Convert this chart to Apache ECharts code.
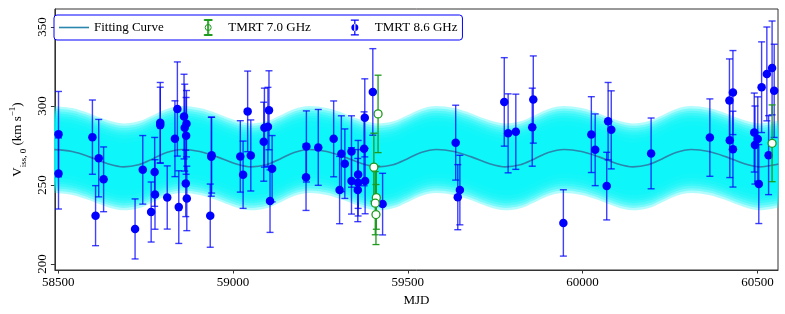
<!DOCTYPE html>
<html><head><meta charset="utf-8">
<script src="https://cdn.jsdelivr.net/npm/echarts@6/dist/echarts.min.js"></script>
<style>html,body{margin:0;padding:0;background:#fff}#c{width:785px;height:314px}</style>
</head><body><div id="c"></div>
<script>
// ---- tick labels ----
const xTicks = [58500, 59000, 59500, 60000, 60500];
const yTicks = [200, 250, 300, 350];

// ---- fitting curve ----
const fitMJD = [58489, 58540, 58590, 58640, 58687, 58730, 58770, 58810, 58855,
  58905, 58955, 59005, 59052, 59095, 59135, 59175, 59218,
  59268, 59318, 59368, 59415, 59458, 59498, 59538, 59582,
  59632, 59682, 59732, 59779, 59822, 59862, 59902, 59947,
  59997, 60047, 60097, 60144, 60187, 60227, 60267, 60311,
  60361, 60411, 60461, 60508, 60551, 60560];
const fitV = [272.4, 271.2, 267.8, 263.6, 261.5, 262.8, 266.5, 270.6, 272.5,
  271.2, 267.8, 263.6, 261.5, 262.8, 266.5, 270.6, 272.5,
  271.2, 267.8, 263.6, 261.5, 262.8, 266.5, 270.6, 272.5,
  271.2, 267.8, 263.6, 261.5, 262.8, 266.5, 270.6, 272.5,
  271.2, 267.8, 263.6, 261.5, 262.8, 266.5, 270.6, 272.5,
  271.2, 267.8, 263.6, 261.5, 262.8, 263.3];
// half widths of the shaded uncertainty band layers (km/s)
const bandHalfWidths = [27.5, 26, 24.5, 23, 21.5, 20, 18, 15];

// ---- TMRT 8.6 GHz ----
const mjd86 = [58501,58501,58598,58616,58607,58630,58720,58742,58766,58776,
  58777,58792,58792,58812,58834,58841,58845,58860,58862,58867,
  58866,58865,58868,58938,58939,58935,59021,59029,59042,59051,
  59088,59090,59100,59103,59112,59106,59210,59209,59244,59288,
  59305,59310,59320,59339,59339,59358,59358,59357,59375,59377,
  59378,59400,59428,59637,59649,59643,59776,59787,59809,59859,
  59856,59945,60025,60036,60073,60082,60069,60196,60364,60420,
  60430,60421,60430,60491,60493,60501,60504,60512,60527,60542,
  60548,60532];
const v86 = [282.2,257.3,280.3,267.0,230.6,253.6,222.2,259.6,232.9,258.3,
  244.0,289.4,287.9,242.1,279.3,298.1,236.0,293.3,286.3,288.8,
  281.1,251.0,241.5,267.9,268.9,230.6,268.1,256.5,296.6,268.7,
  277.4,286.3,286.8,297.3,260.3,239.8,274.4,254.9,273.8,279.2,
  246.8,269.8,263.5,271.2,252.6,256.7,251.4,246.8,272.9,292.5,
  252.5,308.9,237.9,276.8,246.8,242.3,302.6,282.7,283.7,304.1,
  286.6,226.0,281.9,272.3,290.4,284.9,249.3,270.0,280.0,303.5,
  308.5,278.3,272.7,283.2,275.3,279.1,250.6,311.9,320.3,324.1,
  309.6,268.9];
const err86 = [27,22.5,23.5,24.5,19,20.5,19,21.7,19,21.8,
  22,25.5,24,20,24,29.8,23,26.8,27.5,21,
  24.3,21,20.4,25,24,20,22.6,21.3,25.5,22.5,
  25,25,25,25,21,19.8,22.5,21,24,24,
  21.3,24,22,22.6,21,21.5,21,20,23.4,24.7,
  20.7,27.4,19.5,23.7,22,20.6,28,25,23.8,27.6,
  24.7,21,24,22.7,24.5,24.7,21.4,22.4,24.5,26.3,
  26.6,23.6,24,25,24.7,26.7,25,28.7,29.7,29.7,
  29.5,25];

// ---- TMRT 7.0 GHz ----
const mjd70 = [59415, 59403, 59410, 59407, 59409, 60542];
const v70 = [295.0, 261.3, 242.0, 238.5, 231.3, 276.4];
const err70 = [24.5, 21.5, 20, 20, 19, 24.3];

// ---------------------------------------------------------
const FONT = 'Liberation Serif';
const BLUE = '#0000ff';
const GREEN = '#1e9a1e';
const CURVE = '#2a86ad';

const zip3 = (a, b, c) => a.map((x, i) => [x, b[i], c[i]]);
const d86 = zip3(mjd86, v86, err86);
const d70 = zip3(mjd70, v70, err70);

function errRender(color, width) {
  return function (params, api) {
    const x = api.value(0), y = api.value(1), e = api.value(2);
    const t = api.coord([x, y + e]), b = api.coord([x, y - e]);
    const hw = 3.5;
    const st = { stroke: color, lineWidth: width };
    return { type: 'group', children: [
      { type: 'line', shape: { x1: t[0], y1: t[1], x2: b[0], y2: b[1] }, style: st },
      { type: 'line', shape: { x1: t[0] - hw, y1: t[1], x2: t[0] + hw, y2: t[1] }, style: st },
      { type: 'line', shape: { x1: b[0] - hw, y1: b[1], x2: b[0] + hw, y2: b[1] }, style: st }
    ]};
  };
}

const series = [];
// band: rows are [value, MJD] so that the stacked dimension is the y value
bandHalfWidths.forEach((h, k) => {
  series.push({
    type: 'line', name: 'bandbase' + k, stack: 'band' + k, smooth: 0.35,
    symbol: 'none', silent: true, z: 1, encode: { x: 1, y: 0 },
    lineStyle: { opacity: 0, width: 0 },
    data: fitMJD.map((x, i) => [fitV[i] - h, x])
  });
  series.push({
    type: 'line', name: 'band' + k, stack: 'band' + k, smooth: 0.35,
    symbol: 'none', silent: true, z: 1, encode: { x: 1, y: 0 },
    lineStyle: { opacity: 0, width: 0 },
    areaStyle: { color: 'rgba(0,245,250,0.3)', opacity: 1 },
    data: fitMJD.map((x) => [2 * h, x])
  });
});
series.push({
  type: 'line', name: 'Fitting Curve', smooth: 0.35, symbol: 'none', z: 3,
  lineStyle: { color: CURVE, width: 1.6 }, itemStyle: { color: CURVE },
  data: fitMJD.map((x, i) => [x, fitV[i]])
});
series.push({
  type: 'custom', name: 'eb86', z: 4, renderItem: errRender('rgba(0,0,255,0.75)', 1.4),
  encode: { x: 0, y: 1 }, data: d86
});
series.push({
  type: 'scatter', name: 'TMRT 8.6 GHz', z: 5, symbol: 'circle', symbolSize: 8.5,
  itemStyle: { color: BLUE, opacity: 1 },
  data: d86.map(r => [r[0], r[1]])
});
series.push({
  type: 'custom', name: 'eb70', z: 6, renderItem: errRender(GREEN, 1.3),
  encode: { x: 0, y: 1 }, data: d70
});
series.push({
  type: 'scatter', name: 'TMRT 7.0 GHz', z: 7, symbol: 'circle', symbolSize: 8,
  itemStyle: { color: '#fff', borderColor: GREEN, borderWidth: 1.3, opacity: 1 },
  data: d70.map(r => [r[0], r[1]])
});

const ebIcon = 'path://M2,0H10V1.2H2Z M5.4,1.2H6.6V14.8H5.4Z M2,14.8H10V16H2Z M2.5,8A3.5,3.5 0 1 0 9.5,8A3.5,3.5 0 1 0 2.5,8Z';
const ebIconG = 'path://M2,0H10V1H2Z M5.5,1H6.5V15H5.5Z M2,15H10V16H2Z M3,8A3,3 0 1 0 9,8A3,3 0 1 0 3,8Z';

const chart = echarts.init(document.getElementById('c'), null, { renderer: 'canvas' });
chart.setOption({
  animation: false,
  backgroundColor: '#fff',
  grid: { left: 48, right: 7, top: 9, bottom: 44, show: true, borderColor: '#333', borderWidth: 1, backgroundColor: 'transparent' },
  legend: {
    left: 54, top: 15, padding: [4, 5, 4, 5], itemWidth: 30, itemHeight: 16, itemGap: 40,
    borderColor: BLUE, borderWidth: 1, borderRadius: 3, backgroundColor: '#fff',
    textStyle: { fontFamily: FONT, fontSize: 13, color: '#000' },
    data: [
      { name: 'Fitting Curve', icon: 'path://M0,0H30V1.6H0Z', itemStyle: { color: CURVE } },
      { name: 'TMRT 7.0 GHz', icon: ebIconG, itemStyle: { color: '#fff', borderColor: GREEN, borderWidth: 1 } },
      { name: 'TMRT 8.6 GHz', icon: ebIcon, itemStyle: { color: BLUE } }
    ]
  },
  xAxis: {
    type: 'value', min: 58490.7, max: 60558.9,
    name: 'MJD', nameLocation: 'middle', nameGap: 22,
    nameTextStyle: { fontFamily: FONT, fontSize: 13, color: '#000' },
    axisLine: { show: true, lineStyle: { color: '#333', width: 1 } },
    axisTick: { show: true, length: 3.5, customValues: xTicks, lineStyle: { color: '#333' } },
    axisLabel: { customValues: xTicks, margin: 6, fontFamily: FONT, fontSize: 13, color: '#000',
      formatter: v => String(v) },
    splitLine: { show: false }
  },
  yAxis: {
    type: 'value', min: 196.2, max: 361.4,
    name: 'V{sub|iss, 0} (km s{sup|−1})', nameLocation: 'middle', nameGap: 23, nameRotate: 90,
    nameTextStyle: { fontFamily: FONT, fontSize: 13, color: '#000', lineHeight: 20,
      rich: {
        sub: { fontFamily: FONT, fontSize: 9, lineHeight: 9, verticalAlign: 'bottom', color: '#000' },
        sup: { fontFamily: FONT, fontSize: 9, lineHeight: 9, verticalAlign: 'top', color: '#000' }
      } },
    axisLine: { show: true, lineStyle: { color: '#333', width: 1 } },
    axisTick: { show: true, length: 4, customValues: yTicks, lineStyle: { color: '#333' } },
    axisLabel: { customValues: yTicks, rotate: 90, margin: 6, fontFamily: FONT, fontSize: 13, color: '#000',
      formatter: v => String(v) },
    splitLine: { show: false }
  },
  series: series
});
</script>
</body></html>
